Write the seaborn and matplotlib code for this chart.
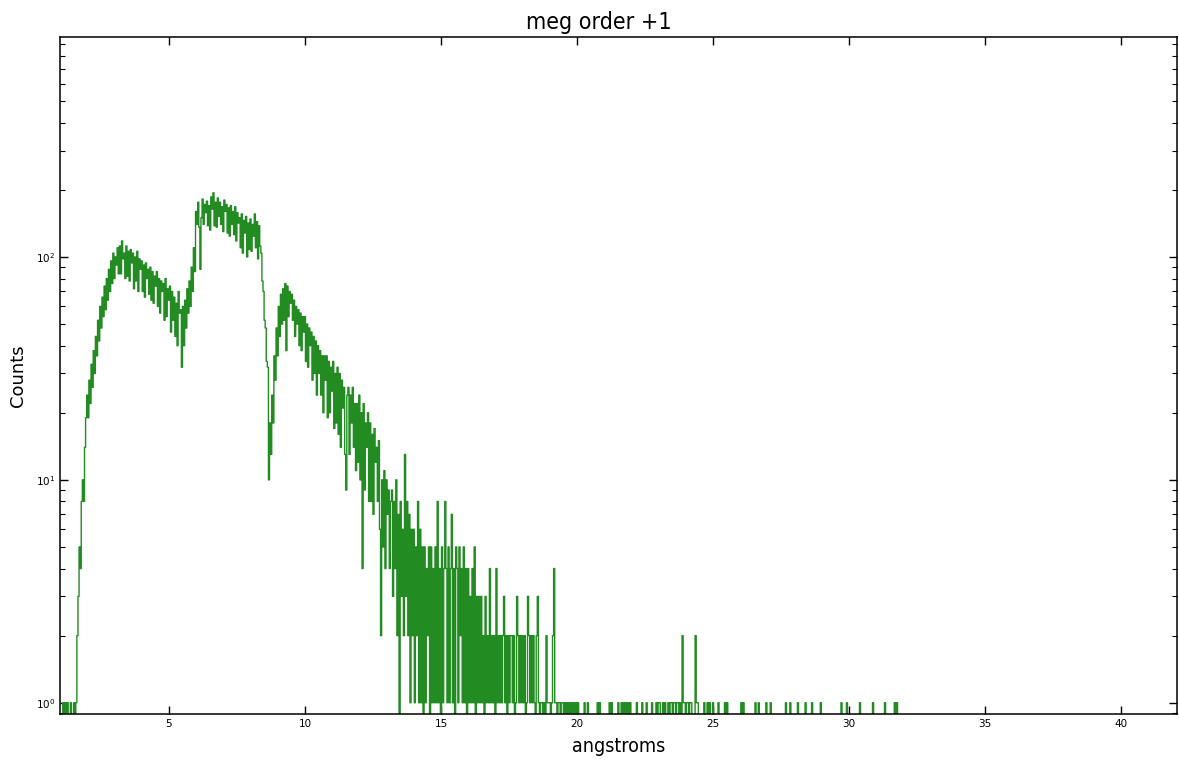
import numpy as np
import pandas as pd
import matplotlib
matplotlib.use("Agg")
import matplotlib.pyplot as plt
import seaborn as sns

# -----------------------------------------------------------
# data (counts per 0.04 A bin)
# -----------------------------------------------------------
bin_start = 1.00   # first bin centre (A)
bin_width = 0.04   # A
bin_stop = 32.00
dense_start = 1.60  # first bin of the continuous part

counts_rise = [1, 2, 3, 5, 4, 8, 10, 8, 14, 19,
               24, 19, 28, 22, 33, 26, 38, 30, 44, 36,
               52, 42, 60, 48, 66, 54, 74, 58, 80, 64]
counts_hump1 = [88, 70, 96, 76, 104, 80, 100, 92, 110, 84,
                112, 84, 118, 98, 104, 80, 112, 82, 106, 78,
                108, 94, 104, 72, 100, 78, 106, 70, 98, 88,
                96, 70, 92, 66, 94, 80, 88, 68, 90, 64,
                86, 62, 82, 74, 86, 60, 80, 56, 78, 70,
                76, 52, 80, 54, 72, 64, 74, 46, 70, 52,
                66, 44, 62, 40, 70, 56, 58, 32, 60, 40,
                64, 48, 72, 56, 78, 60, 90, 70, 110, 86]
counts_hump2 = [160, 140, 176, 136, 88, 150, 182, 140, 172, 158,
                178, 138, 170, 132, 186, 164, 194, 138, 176, 136,
                184, 152, 176, 140, 168, 130, 180, 160, 172, 128,
                166, 124, 170, 140, 160, 126, 168, 118, 158, 142,
                150, 110, 156, 104, 146, 128, 152, 100, 142, 108,
                148, 106, 140, 124, 156, 110, 144, 98, 138, 112]
counts_edge = [104, 78, 70, 52, 48, 34, 32, 10, 18, 13,
               24, 18, 36, 28, 48, 36, 60, 44, 68, 50]
counts_tail = [72, 52, 76, 38, 74, 54, 70, 62, 68, 52,
               64, 44, 60, 50, 58, 40, 56, 38, 54, 46,
               54, 34, 50, 32, 48, 40, 46, 28, 44, 30,
               42, 24, 40, 30, 38, 24, 36, 20, 36, 28,
               36, 19, 34, 20, 32, 25, 34, 17, 30, 18,
               32, 16, 30, 14, 28, 21, 26, 13, 9, 24,
               26, 13, 24, 18, 26, 14, 22, 11, 22, 12,
               24, 10, 20, 4, 22, 9, 18, 14, 20, 8,
               18, 8, 16, 7, 17, 12, 14, 8, 15, 6,
               2, 10, 5, 11, 4, 10, 7, 9, 4, 8]
counts_low = [9, 3, 8, 4, 10, 2, 7, 0, 8, 3,
              6, 2, 13, 3, 8, 2, 7, 1, 6, 2,
              6, 1, 5, 2, 8, 1, 6, 1, 5, 0,
              5, 1, 4, 2, 5, 0, 5, 1, 4, 1,
              5, 1, 8, 1, 4, 0, 5, 1, 4, 8,
              4, 1, 5, 1, 4, 7, 1, 4, 0, 5,
              4, 1, 5, 2, 4, 1, 5, 1, 4, 0,
              4, 1, 3, 1, 4, 1, 5, 0, 3, 1,
              3, 1, 3, 1, 2, 0, 3, 1, 2, 1,
              4, 1, 2, 1, 2, 0, 4, 1, 2, 1,
              2, 1, 2, 3, 1, 2, 0, 2, 1, 2,
              2, 1, 2, 0, 1, 3, 2, 1, 2, 1,
              2, 1, 2, 0, 1, 3, 2, 1, 2, 1,
              2, 1, 0, 2, 3, 1, 0, 1, 1, 0,
              1, 0, 2, 1, 1, 1, 0, 1, 2, 4,
              1, 1, 0, 1, 1, 0, 1, 1, 0, 1]

# isolated single-count bins outside the continuous part
ones_left = [1.12, 1.20, 1.28, 1.40, 1.52]
ones_right = [19.64, 19.72, 19.80, 19.88, 19.96, 20.04, 20.30, 20.40, 20.76, 20.84,
              21.20, 21.28, 21.52, 21.64, 21.72, 21.80, 21.88, 21.96, 22.20, 22.40,
              22.56, 22.76, 22.92, 23.00, 23.04, 23.16, 23.24, 23.36, 23.44, 23.48,
              23.56, 23.60, 23.68, 23.72, 23.80, 23.92, 23.96, 24.04, 24.08, 24.16,
              24.20, 24.40, 24.44, 24.68, 24.80, 24.88, 25.00, 25.20, 25.44, 25.52,
              26.04, 26.12, 26.56, 26.68, 26.96, 27.12, 27.68, 27.84, 28.12, 28.40,
              28.64, 28.96, 29.72, 29.92, 30.40, 30.88, 31.32, 31.68, 31.76]
twos_right = [23.86, 24.34]

# -----------------------------------------------------------
# build the spectrum table
# -----------------------------------------------------------
wave = np.round(np.arange(bin_start, bin_stop + bin_width / 2, bin_width), 2)
counts = np.zeros(len(wave))
dense = counts_rise + counts_hump1 + counts_hump2 + counts_edge + counts_tail + counts_low
i0 = int(round((dense_start - bin_start) / bin_width))
counts[i0:i0 + len(dense)] = dense
for w in ones_left + ones_right:
    counts[int(round((w - bin_start) / bin_width))] = 1
for w in twos_right:
    counts[int(round((w - bin_start) / bin_width))] = 2

df = pd.DataFrame({'angstroms': wave, 'Counts': counts})

# -----------------------------------------------------------
# plot
# -----------------------------------------------------------
sns.set_style('white')
fig = plt.figure(figsize=(11.79, 7.68), dpi=100)
ax = fig.add_axes([0.0509, 0.0703, 0.9474, 0.8815])

sns.lineplot(data=df, x='angstroms', y='Counts', estimator=None, sort=True,
             drawstyle='steps-mid', color='forestgreen', linewidth=1.0, ax=ax)

ax.set_yscale('log')
ax.set_xlim(1.0, 42.05)
ax.set_ylim(0.89, 970)
ax.set_xticks([5, 10, 15, 20, 25, 30, 35, 40])
ax.tick_params(which='both', direction='in', top=True, right=True, bottom=True, left=True,
               labelsize=7.5, color='black', labelcolor='black')
ax.tick_params(which='major', length=6, width=1)
ax.tick_params(which='minor', length=3.5, width=0.8)
ax.tick_params(axis='x', which='minor', top=False, bottom=False)
for sp in ax.spines.values():
    sp.set_color('black')
    sp.set_linewidth(1.1)

ax.set_title('meg order +1', fontsize=16.7, fontstretch='condensed', pad=6, x=0.482, color='black')
ax.set_xlabel('angstroms', fontsize=14, fontstretch='condensed', labelpad=6, color='black')
ax.set_ylabel('Counts', fontsize=13, labelpad=6, color='black')

fig.savefig('out.png', dpi=100)
